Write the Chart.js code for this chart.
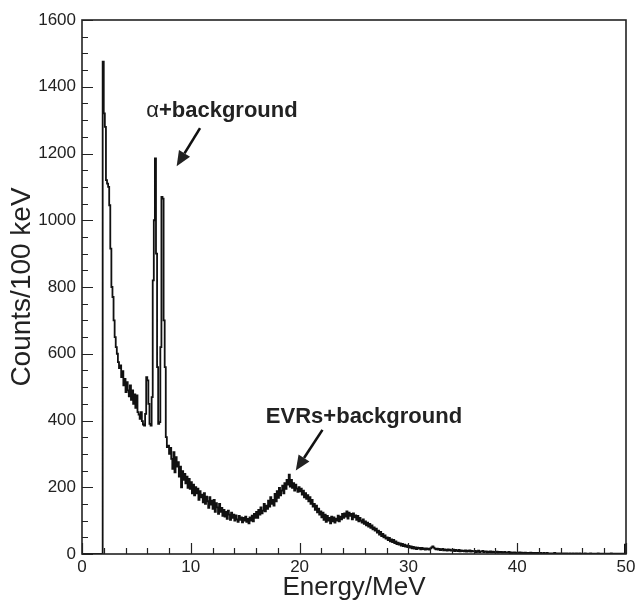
<!DOCTYPE html>
<html>
<head>
<meta charset="utf-8">
<script src="https://cdn.jsdelivr.net/npm/chart.js@4.4.1/dist/chart.umd.min.js"></script>
<style>
  html, body { margin: 0; padding: 0; background: #fff; }
  #wrap { width: 639px; height: 608px; }
</style>
</head>
<body>
<div id="wrap"><canvas id="spectrum"></canvas></div>
<script>
// Energy spectrum, 100 keV bins from 0 to 50 MeV
const binWidth = 0.1; // MeV

// 0.0 - 9.9 MeV
const counts0to10 = [
  0, 0, 0, 0, 0, 0, 0, 0, 0, 0,
  0, 0, 0, 0, 0, 0, 0, 0, 0, 1475,
  1320, 1280, 1120, 1110, 1100, 1045, 915, 800, 770, 700,
  650, 620, 600, 575, 557, 565, 530, 548, 505, 525,
  485, 515, 490, 472, 505, 462, 490, 450, 478, 438,
  475, 425, 418, 405, 425, 398, 388, 385, 420, 530,
  520, 450, 390, 385, 470, 820, 1000, 1185, 900, 560,
  390, 395, 620, 1070, 1065, 700, 560, 350, 320, 325,
  300, 318, 285, 255, 305, 245, 290, 262, 275, 232,
  262, 200, 248, 222, 240, 212, 232, 198, 225, 195
];
// 10.0 - 19.9 MeV
const counts10to20 = [
  215, 182, 208, 176, 200, 182, 196, 162, 188, 170,
  178, 155, 182, 150, 172, 158, 138, 170, 148, 160,
  135, 162, 126, 152, 140, 120, 150, 126, 138, 114,
  132, 112, 126, 105, 130, 118, 102, 124, 108, 118,
  100, 116, 104, 96, 114, 102, 110, 95, 108, 100,
  112, 96, 105, 92, 110, 100, 115, 98, 120, 108,
  126, 108, 132, 118, 140, 122, 130, 150, 128, 145,
  135, 160, 142, 170, 150, 162, 145, 180, 158, 188,
  168, 198, 176, 190, 205, 182, 212, 195, 222, 208,
  238, 202, 222, 198, 212, 190, 208, 196, 186, 200
];
// 20.0 - 29.9 MeV
const counts20to30 = [
  188, 196, 178, 190, 170, 182, 165, 176, 158, 170,
  150, 162, 142, 150, 132, 145, 125, 136, 118, 128,
  110, 124, 102, 118, 96, 114, 100, 108, 92, 112,
  98, 110, 94, 106, 100, 115, 98, 112, 104, 120,
  108, 122, 112, 128, 106, 124, 114, 120, 104, 122,
  110, 116, 102, 114, 98, 108, 100, 94, 104, 90,
  98, 86, 94, 82, 90, 78, 86, 74, 80, 70,
  76, 64, 70, 58, 66, 54, 60, 50, 56, 46,
  50, 42, 48, 38, 44, 36, 42, 33, 38, 30,
  34, 28, 32, 25, 30, 24, 28, 22, 26, 21
];
// 30.0 - 39.9 MeV
const counts30to40 = [
  24, 19, 23, 17, 21, 16, 20, 15, 19, 16,
  18, 14, 18, 15, 17, 13, 17, 14, 16, 13,
  17, 20, 23, 19, 16, 14, 16, 13, 15, 12,
  13, 15, 11, 14, 12, 10, 14, 11, 13, 10,
  11, 13, 9, 12, 10, 9, 12, 8, 11, 9,
  10, 8, 11, 7, 10, 8, 11, 7, 9, 8,
  8, 9, 6, 8, 10, 6, 8, 7, 9, 6,
  7, 8, 5, 7, 6, 8, 5, 7, 6, 5,
  6, 7, 4, 6, 5, 6, 4, 5, 6, 4,
  5, 4, 6, 3, 5, 3, 4, 5, 3, 4
];
// 40.0 - 49.9 MeV
const counts40to50 = [
  4, 3, 5, 3, 4, 3, 2, 4, 3, 3,
  3, 2, 4, 3, 2, 3, 2, 3, 2, 3,
  2, 3, 2, 2, 3, 1, 2, 3, 2, 2,
  2, 1, 2, 2, 3, 1, 2, 1, 2, 2,
  1, 2, 1, 2, 1, 2, 1, 1, 2, 1,
  1, 2, 1, 1, 2, 1, 1, 2, 1, 1,
  1, 1, 2, 1, 0, 1, 1, 2, 1, 1,
  1, 0, 1, 1, 2, 1, 0, 1, 1, 1,
  0, 1, 1, 0, 1, 1, 2, 0, 1, 1,
  1, 0, 1, 1, 0, 1, 1, 0, 1, 28
];

const xRange = [0, 50];
const yRange = [0, 1600];
const xTickStep = 10, xMinorStep = 2;
const yTickStep = 200, yMinorStep = 50;

// text labels with arrows, placed in data units (MeV, counts)
const notes = [
  { greek: 'α', text: '+background', x: 5.9, y: 1310,
    arrowFrom: [10.85, 1276], arrowTo: [8.7, 1162] },
  { greek: '', text: 'EVRs+background', x: 16.9, y: 392,
    arrowFrom: [22.1, 372], arrowTo: [19.65, 250] }
];

const counts = [].concat(counts0to10, counts10to20, counts20to30, counts30to40, counts40to50);
const points = counts.map((c, i) => ({ x: i * binWidth, y: c }));
points.push({ x: xRange[1], y: counts[counts.length - 1] });

const FONT = '"Liberation Sans", Arial, Helvetica, sans-serif';
const INK = '#222';

function drawArrow(ctx, x1, y1, x2, y2) {
  const ang = Math.atan2(y2 - y1, x2 - x1);
  const headLen = 15, headHalf = 6.5;
  const bx = x2 - headLen * Math.cos(ang), by = y2 - headLen * Math.sin(ang);
  ctx.beginPath();
  ctx.moveTo(x1, y1);
  ctx.lineTo(bx, by);
  ctx.lineWidth = 2.6;
  ctx.stroke();
  ctx.beginPath();
  ctx.moveTo(x2, y2);
  ctx.lineTo(bx + headHalf * Math.sin(ang), by - headHalf * Math.cos(ang));
  ctx.lineTo(bx - headHalf * Math.sin(ang), by + headHalf * Math.cos(ang));
  ctx.closePath();
  ctx.fill();
}

// frame box, inward tick marks and the annotations
const frameAndNotes = {
  id: 'frameAndNotes',
  afterDraw(chart) {
    const { ctx, chartArea: a, scales: { x, y } } = chart;
    ctx.save();
    ctx.strokeStyle = INK;
    ctx.lineWidth = 1.6;
    ctx.strokeRect(a.left, a.top, a.right - a.left, a.bottom - a.top);

    ctx.beginPath();
    ctx.lineWidth = 1.2;
    for (let v = yRange[0]; v <= yRange[1]; v += yMinorStep) {
      const py = Math.round(y.getPixelForValue(v)) + 0.5;
      const len = v % yTickStep === 0 ? 11 : 6;
      ctx.moveTo(a.left, py);
      ctx.lineTo(a.left + len, py);
    }
    for (let v = xRange[0]; v <= xRange[1]; v += xMinorStep) {
      const px = Math.round(x.getPixelForValue(v)) + 0.5;
      const len = v % xTickStep === 0 ? 11 : 6;
      ctx.moveTo(px, a.bottom);
      ctx.lineTo(px, a.bottom - len);
    }
    ctx.stroke();

    ctx.fillStyle = INK;
    ctx.strokeStyle = '#111';
    ctx.textBaseline = 'alphabetic';
    ctx.textAlign = 'left';
    notes.forEach(n => {
      let px = x.getPixelForValue(n.x);
      const py = y.getPixelForValue(n.y);
      if (n.greek) {
        ctx.font = '22px ' + FONT;
        ctx.fillText(n.greek, px, py);
        px += ctx.measureText(n.greek).width;
      }
      ctx.font = 'bold 22px ' + FONT;
      ctx.fillText(n.text, px, py);
      drawArrow(ctx,
        x.getPixelForValue(n.arrowFrom[0]), y.getPixelForValue(n.arrowFrom[1]),
        x.getPixelForValue(n.arrowTo[0]), y.getPixelForValue(n.arrowTo[1]));
    });
    ctx.restore();
  }
};

new Chart(document.getElementById('spectrum'), {
  type: 'line',
  data: {
    datasets: [{
      data: points,
      stepped: 'before',
      borderColor: '#111',
      borderWidth: 1.8,
      pointRadius: 0,
      fill: false
    }]
  },
  options: {
    responsive: true,
    maintainAspectRatio: false,
    devicePixelRatio: 1,
    animation: false,
    layout: { padding: { left: 0, right: 13, top: 20, bottom: 0 } },
    plugins: { legend: { display: false }, tooltip: { enabled: false } },
    scales: {
      x: {
        type: 'linear',
        min: xRange[0], max: xRange[1],
        grid: { display: false, drawTicks: false },
        border: { display: false },
        ticks: { stepSize: xTickStep, padding: 3, color: INK, font: { family: FONT, size: 17 },
                 callback: v => String(v) },
        title: { display: true, text: 'Energy/MeV', color: INK, padding: { top: 0, bottom: 5 },
                 font: { family: FONT, size: 26 } },
        afterFit: s => { s.height = 54; }
      },
      y: {
        min: yRange[0], max: yRange[1],
        grid: { display: false, drawTicks: false },
        border: { display: false },
        ticks: { stepSize: yTickStep, padding: 6, color: INK, font: { family: FONT, size: 17 },
                 callback: v => String(v) },
        title: { display: true, text: 'Counts/100 keV', color: INK, padding: { top: 5, bottom: 0 },
                 font: { family: FONT, size: 28 } },
        afterFit: s => { s.width = 82; }
      }
    }
  },
  plugins: [frameAndNotes]
});
</script>
</body>
</html>
